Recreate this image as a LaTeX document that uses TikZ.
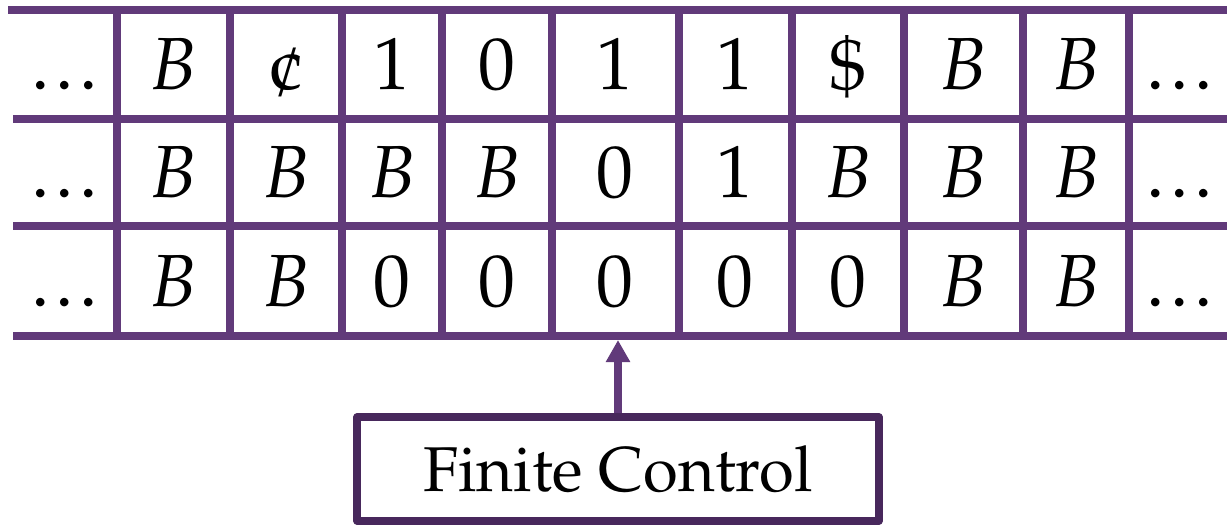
\documentclass[tikz,border=0pt]{standalone}
\usepackage[T1]{fontenc}
\usepackage{mathpazo}
\usetikzlibrary{arrows.meta}

\definecolor{tapepurple}{HTML}{613A7A}
\definecolor{boxpurple}{HTML}{48285C}

% tighter dots for the open ends of the tape
\newcommand\tapedots{.\kern1.6pt.\kern1.6pt.}

\tikzset{
    tapeline/.style={draw=tapepurple, line width=0.08cm},
    sym/.style={font=\fontsize{21}{25}\selectfont, inner sep=0pt,
        text height=0.5cm, text depth=0pt},
    control/.style={draw=boxpurple, line width=0.08cm, line join=round,
        minimum width=5.21cm, minimum height=1.04cm, inner sep=0pt,
        font=\fontsize{18}{22}\selectfont},
}

\begin{document}
\begin{tikzpicture}[x=0.01cm, y=-0.01cm]
    \useasboundingbox (0,0) rectangle (1227,524);

    % the three tracks
    \draw[tapeline] (8,10) -- (1227,10);
    \foreach \y in {119,226,336}
        \draw[tapeline] (13,\y) -- (1227,\y);
    \foreach \x in {117,230,342,442,552,679,792,904,1023,1129}
        \draw[tapeline] (\x,10) -- (\x,336);

    % symbols, one column at a time
    \foreach \x/\a/\b/\c [count=\i] in {
        65/\tapedots/\tapedots/\tapedots,
        173/$B$/$B$/$B$,
        286/\textcent/$B$/$B$,
        392/1/$B$/0,
        497/0/$B$/0,
        615/1/0/0,
        735/1/1/0,
        848/\$/$B$/0,
        963/$B$/$B$/$B$,
        1076/$B$/$B$/$B$,
        1180/\tapedots/\tapedots/\tapedots}
    {
        \node[sym] (s-1-\i) at (\x, 64) {\a};
        \node[sym] (s-2-\i) at (\x, 172) {\b};
        \node[sym] (s-3-\i) at (\x, 281) {\c};
    }

    % head
    \node[control] (fc) at (618,469) {Finite Control};
    \coordinate (head) at (618,340);
    \draw[tapeline, -{Triangle[length=0.22cm, width=0.23cm]}] (fc.north) -- (head);
\end{tikzpicture}
\end{document}
